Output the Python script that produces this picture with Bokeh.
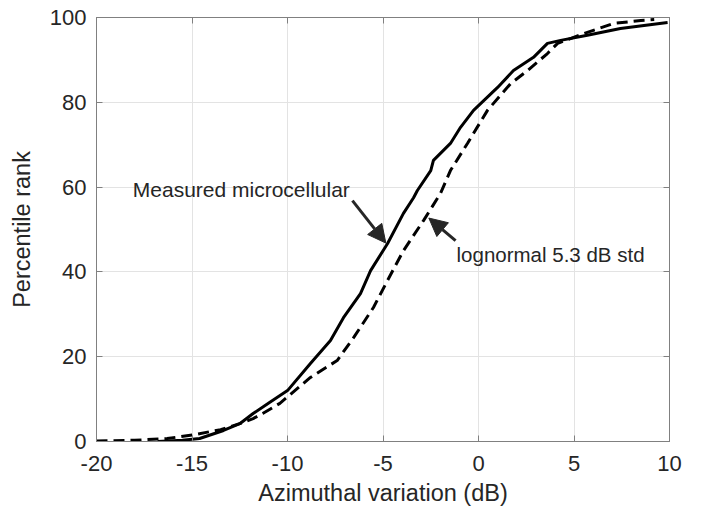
from bokeh.plotting import figure
from bokeh.models import LinearAxis, Range1d, Arrow, NormalHead, Label, FixedTicker
from bokeh.embed import file_html
from bokeh.resources import INLINE

# Measured microcellular (solid)
meas_x = [-16.8, -15.5, -14.6, -13.35, -12.5, -11.8, -11.0, -10.0, -8.8, -7.75, -7.07, -6.18,
          -5.65, -4.76, -3.93, -3.4, -3.2, -2.5, -2.36, -1.47, -0.94, -0.26, 1.0, 1.83, 2.88,
          3.61, 4.3, 5.7, 7.43, 9.9]
meas_y = [0.0, 0.3, 0.7, 2.6, 4.2, 6.6, 9.0, 12.0, 18.4, 23.8, 29.2, 34.9,
          40.3, 46.7, 53.8, 57.5, 59.2, 63.9, 66.3, 70.3, 74.1, 78.1, 83.5, 87.5, 90.6,
          93.9, 94.6, 95.8, 97.4, 98.8]

# Lognormal 5.3 dB std (dashed)
logn_x = [-20.0, -18.0, -16.3, -14.9, -13.5, -12.5, -11.8, -11.3, -10.4, -8.8, -7.4, -6.54,
          -5.5, -4.76, -3.93, -2.88, -1.99, -1.47, -0.58, 0.47, 1.68, 2.57, 3.61, 4.14,
          5.5, 7.07, 8.5, 9.2]
logn_y = [0.1, 0.3, 0.7, 1.6, 2.8, 4.2, 5.4, 6.6, 9.0, 15.1, 19.1, 24.5,
          31.6, 38.0, 45.0, 52.1, 58.5, 63.9, 70.3, 78.1, 84.4, 87.5, 91.5, 93.9,
          96.2, 98.6, 99.3, 99.5]

x_ticks = [-20, -15, -10, -5, 0, 5, 10]
y_ticks = [0, 20, 40, 60, 80, 100]
x_tick_labels = ["-20", "-15", "-10", "-5", "0", "5", "10"]
y_tick_labels = ["0", "20", "40", "60", "80", "100"]

FONT = "Liberation Sans"
TXT = "#262626"
AX = "#808080"

p = figure(width=713, height=512, output_backend="svg", toolbar_location=None,
           x_range=Range1d(-20, 10), y_range=Range1d(0, 100),
           min_border_left=96, min_border_right=44, min_border_top=17, min_border_bottom=71)
p.background_fill_color = "white"
p.border_fill_color = "white"
p.outline_line_color = AX
p.outline_line_width = 1

for ax in (p.xaxis[0], p.yaxis[0]):
    ax.major_tick_in = 6
    ax.major_tick_out = 0
    ax.minor_tick_in = 0
    ax.minor_tick_out = 0
    ax.axis_line_color = AX
    ax.major_tick_line_color = AX
    ax.major_label_text_font = FONT
    ax.major_label_text_font_size = "22px"
    ax.major_label_text_color = TXT
    ax.axis_label_text_font = FONT
    ax.axis_label_text_font_size = "23.5px"
    ax.axis_label_text_color = TXT
    ax.axis_label_text_font_style = "normal"

p.xaxis[0].ticker = FixedTicker(ticks=x_ticks)
p.yaxis[0].ticker = FixedTicker(ticks=y_ticks)
p.xaxis[0].major_label_overrides = {t: s for t, s in zip(x_ticks, x_tick_labels)}
p.yaxis[0].major_label_overrides = {t: s for t, s in zip(y_ticks, y_tick_labels)}
p.xaxis[0].axis_label = "Azimuthal variation (dB)"
p.yaxis[0].axis_label = "Percentile rank"
p.xaxis[0].major_label_standoff = 14
p.yaxis[0].major_label_standoff = 10
p.xaxis[0].axis_label_standoff = 6
p.yaxis[0].axis_label_standoff = 12

# Box axes (top/right): tick marks only, no labels
top = LinearAxis(ticker=FixedTicker(ticks=x_ticks),
                 major_label_overrides={t: "" for t in x_ticks},
                 major_tick_in=6, major_tick_out=0, minor_tick_in=0, minor_tick_out=0,
                 axis_line_color=AX, major_tick_line_color=AX, major_label_standoff=0)
right = LinearAxis(ticker=FixedTicker(ticks=y_ticks),
                   major_label_overrides={t: "" for t in y_ticks},
                   major_tick_in=6, major_tick_out=0, minor_tick_in=0, minor_tick_out=0,
                   axis_line_color=AX, major_tick_line_color=AX, major_label_standoff=0)
p.add_layout(top, "above")
p.add_layout(right, "right")

p.xgrid.ticker = FixedTicker(ticks=x_ticks)
p.ygrid.ticker = FixedTicker(ticks=y_ticks)
p.grid.grid_line_color = "#e3e3e3"
p.grid.grid_line_width = 1

p.line(logn_x, logn_y, line_color="black", line_width=3, line_dash="11 6")
p.line(meas_x, meas_y, line_color="black", line_width=3)

head1 = NormalHead(size=18, fill_color=TXT, line_color=TXT)
p.add_layout(Arrow(end=head1, x_start=-6.6, y_start=56.8, x_end=-4.85, y_end=46.8,
                   line_color=TXT, line_width=3))
head2 = NormalHead(size=18, fill_color=TXT, line_color=TXT)
p.add_layout(Arrow(end=head2, x_start=-1.2, y_start=47.4, x_end=-2.6, y_end=52.7,
                   line_color=TXT, line_width=3))

p.add_layout(Label(x=-18.1, y=59.5, text="Measured microcellular", text_font=FONT,
                   text_font_size="21px", text_color=TXT, text_baseline="middle"))
p.add_layout(Label(x=-1.15, y=44.0, text="lognormal 5.3 dB std", text_font=FONT,
                   text_font_size="20.5px", text_color=TXT, text_baseline="middle"))

open("out.html", "w").write(file_html(p, INLINE))
